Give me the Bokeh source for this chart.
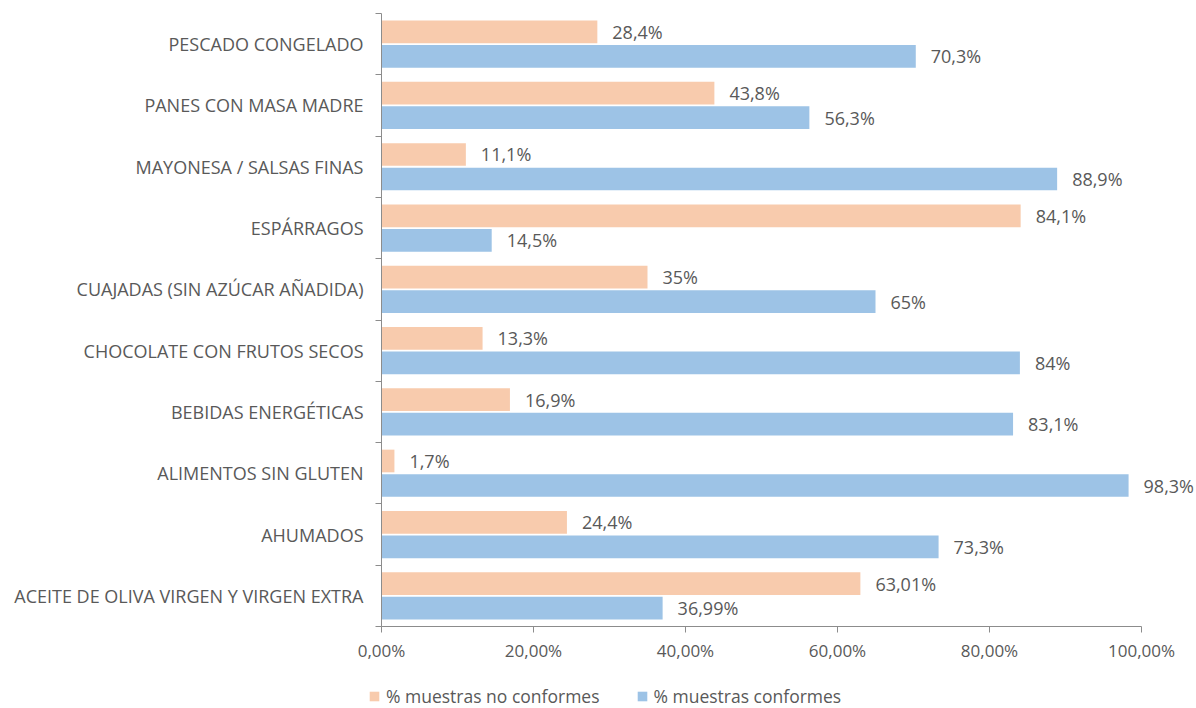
from bokeh.plotting import figure
from bokeh.models import ColumnDataSource, FixedTicker, LabelSet, Legend, LegendItem
from bokeh.core.properties import value
from bokeh.embed import file_html
from bokeh.resources import INLINE

categories = [
    "ACEITE DE OLIVA VIRGEN Y VIRGEN EXTRA",
    "AHUMADOS",
    "ALIMENTOS SIN GLUTEN",
    "BEBIDAS ENERGÉTICAS",
    "CHOCOLATE CON FRUTOS SECOS",
    "CUAJADAS (SIN AZÚCAR AÑADIDA)",
    "ESPÁRRAGOS",
    "MAYONESA / SALSAS FINAS",
    "PANES CON MASA MADRE",
    "PESCADO CONGELADO",
]
no_conformes = [63.01, 24.4, 1.7, 16.9, 13.3, 35, 84.1, 11.1, 43.8, 28.4]
conformes = [36.99, 73.3, 98.3, 83.1, 84, 65, 14.5, 88.9, 56.3, 70.3]
x_ticks = [0, 20, 40, 60, 80, 100]
x_tick_labels = ["0,00%", "20,00%", "40,00%", "60,00%", "80,00%", "100,00%"]
series_names = ["% muestras no conformes", "% muestras conformes"]

ORANGE = "#F8CBAD"
BLUE = "#9DC3E6"
TXT = "#595959"
AX = "#8C8C8C"
FONT = "Open Sans"

# layout (screen px): plot area spans x 381..1141 (0..100 %), y 13..626 (10 bands)
W, H = 1194, 708
LEFT, TOP, BOTTOM = 381, 13, 626
PX_X = 760 / 100.0
PX_Y = (BOTTOM - TOP) / 10.0

def fmt(v):
    return ("%g" % v).replace(".", ",") + "%"

centers = [i + 0.5 for i in range(len(categories))]
src_o = ColumnDataSource(dict(y=[c + 0.2 for c in centers], x=no_conformes,
                              lab=[fmt(v) for v in no_conformes]))
src_b = ColumnDataSource(dict(y=[c - 0.2 for c in centers], x=conformes,
                              lab=[fmt(v) for v in conformes]))

p = figure(frame_width=W, frame_height=H,
           x_range=(-LEFT / PX_X, (W - LEFT) / PX_X),
           y_range=(-(H - BOTTOM) / PX_Y, 10 + TOP / PX_Y),
           output_backend="svg", toolbar_location=None,
           min_border_left=0, min_border_top=0, min_border_right=0, min_border_bottom=0)
p.outline_line_color = None
p.xgrid.visible = False
p.ygrid.visible = False

r_o = p.hbar(y="y", right="x", left=0, height=0.37, source=src_o, fill_color=ORANGE, line_color=None)
r_b = p.hbar(y="y", right="x", left=0, height=0.37, source=src_b, fill_color=BLUE, line_color=None)

for src in (src_o, src_b):
    p.add_layout(LabelSet(x="x", y="y", text="lab", source=src, x_offset=15,
                          text_baseline="middle", text_font=value(FONT), text_font_size="18px",
                          text_color=TXT))

# x axis
p.xaxis.fixed_location = 0
p.xaxis.bounds = (0, 100)
p.xaxis.ticker = FixedTicker(ticks=x_ticks, minor_ticks=[])
p.xaxis.major_label_overrides = {t: l for t, l in zip(x_ticks, x_tick_labels)}
p.xaxis.axis_line_color = AX
p.xaxis.major_tick_line_color = AX
p.xaxis.major_tick_out = 6
p.xaxis.major_tick_in = 0
p.xaxis.major_label_standoff = 6
p.xaxis.major_label_text_font = FONT
p.xaxis.major_label_text_font_size = "17px"
p.xaxis.major_label_text_color = TXT

# y axis
p.yaxis.fixed_location = 0
p.yaxis.bounds = (0, 10)
p.yaxis.ticker = FixedTicker(ticks=centers, minor_ticks=list(range(len(categories) + 1)))
p.yaxis.major_label_overrides = {c: n for c, n in zip(centers, categories)}
p.yaxis.axis_line_color = AX
p.yaxis.major_tick_line_color = None
p.yaxis.major_tick_out = 0
p.yaxis.major_tick_in = 0
p.yaxis.minor_tick_line_color = AX
p.yaxis.minor_tick_out = 6
p.yaxis.minor_tick_in = 0
p.yaxis.major_label_standoff = 12
p.yaxis.major_label_text_font = FONT
p.yaxis.major_label_text_font_size = "18px"
p.yaxis.major_label_text_color = TXT

legend = Legend(items=[LegendItem(label=series_names[0], renderers=[r_o]),
                       LegendItem(label=series_names[1], renderers=[r_b])],
                orientation="horizontal", location=(368, 0),
                glyph_width=12, glyph_height=12, label_standoff=6, spacing=36,
                label_text_font=FONT, label_text_font_size="17.5px", label_text_color=TXT,
                label_height=12, border_line_color=None, background_fill_alpha=0,
                padding=0, margin=0)
p.add_layout(legend)

open("out.html", "w").write(file_html(p, INLINE))
